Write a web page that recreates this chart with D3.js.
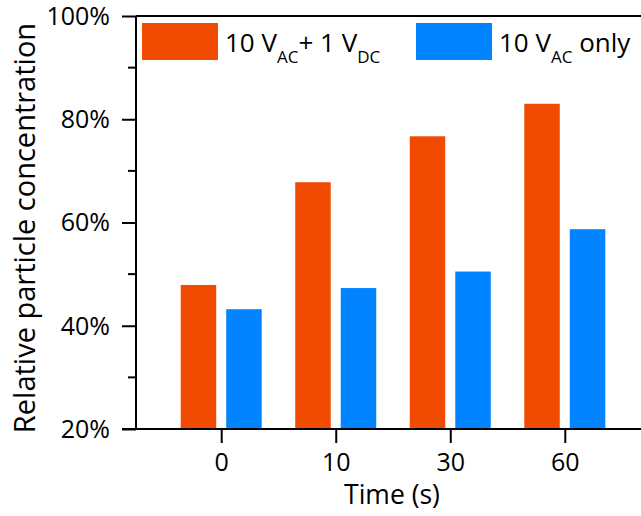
<!DOCTYPE html>
<html>
<head>
<meta charset="utf-8">
<script src="https://cdn.jsdelivr.net/npm/d3@7"></script>
<style>
  html, body { margin: 0; padding: 0; background: #fff; }
  svg { display: block; font-family: "Open Sans", "Noto Sans", sans-serif; }
</style>
</head>
<body>
<svg id="chart" width="641" height="516"></svg>
<script>
// Time points (s) and relative particle concentration (%) per condition
const times = ["0", "10", "30", "60"];
const seriesNames = ["acdc", "ac"];
const acPlusDc = [47.9, 67.8, 76.7, 83.0];
const acOnly = [43.2, 47.3, 50.5, 58.7];
const yTicks = [20, 40, 60, 80, 100];
const yMinorTicks = [30, 50, 70, 90];
const colors = { acdc: "#F04B00", ac: "#0084FF" };

const svg = d3.select("#chart");
const plotLeft = 136, plotTop = 16, plotBottom = 429, plotRight = 650;

const y = d3.scaleLinear().domain([20, 100]).range([plotBottom, plotTop]);
const x = d3.scalePoint().domain(times).range([plotLeft, plotRight]).padding(0.744);
const xSub = d3.scaleBand().domain(seriesNames).range([-40.5, 40.5]).paddingInner(0.22);

const rows = times.map((t, i) => ({ t, acdc: acPlusDc[i], ac: acOnly[i] }));

// Bars
const groups = svg.append("g").selectAll("g").data(rows).join("g")
  .attr("transform", d => `translate(${x(d.t)},0)`);
groups.selectAll("rect")
  .data(d => seriesNames.map(k => ({ k, v: d[k] })))
  .join("rect")
  .attr("x", d => xSub(d.k))
  .attr("width", xSub.bandwidth())
  .attr("y", d => y(d.v))
  .attr("height", d => y(20) - y(d.v))
  .attr("fill", d => colors[d.k]);

// Frame: top border line
svg.append("line")
  .attr("x1", plotLeft).attr("x2", plotRight).attr("y1", plotTop).attr("y2", plotTop)
  .attr("stroke", "#000").attr("stroke-width", 2);

// Y axis with major and minor ticks
const yAxis = svg.append("g").attr("transform", `translate(${plotLeft},0)`)
  .call(d3.axisLeft(y).tickValues(yTicks).tickSize(14).tickPadding(12)
    .tickFormat(d => d + "%"));
yAxis.append("g").selectAll("line").data(yMinorTicks).join("line")
  .attr("x1", -8).attr("x2", 0)
  .attr("y1", d => y(d)).attr("y2", d => y(d));
yAxis.select(".domain").remove();
yAxis.append("line").attr("x1", 0).attr("x2", 0).attr("y1", plotTop).attr("y2", plotBottom);
yAxis.selectAll("line").attr("stroke", "#000").attr("stroke-width", 2);
yAxis.selectAll("text").attr("font-size", 25).attr("fill", "#000")
  .attr("font-family", "'Open Sans', sans-serif").attr("dy", "0.33em");

// X axis
const xAxis = svg.append("g").attr("transform", `translate(0,${plotBottom})`)
  .call(d3.axisBottom(x).tickSize(14).tickPadding(10));
xAxis.select(".domain").remove();
xAxis.append("line").attr("x1", plotLeft - 14).attr("x2", plotRight).attr("y1", 0).attr("y2", 0);
xAxis.selectAll("line").attr("stroke", "#000").attr("stroke-width", 2);
xAxis.selectAll(".tick text").attr("font-size", 25).attr("fill", "#000")
  .attr("font-family", "'Open Sans', sans-serif").attr("dy", "0.71em");

// Axis titles
svg.append("text")
  .attr("x", 392).attr("y", 504)
  .attr("text-anchor", "middle").attr("font-size", 26.5).attr("fill", "#000")
  .text("Time (s)");
svg.append("text")
  .attr("transform", "translate(35,228) rotate(-90)")
  .attr("text-anchor", "middle").attr("font-size", 29).attr("fill", "#000")
  .text("Relative particle concentration");

// Legend (with subscripted voltage labels)
const legendItems = [
  { k: "acdc", x: 142, parts: [["10 V", false], ["AC", true], ["+ 1 V", false], ["DC", true]] },
  { k: "ac", x: 416, parts: [["10 V", false], ["AC", true], [" only", false]] }
];
legendItems.forEach(item => {
  svg.append("rect")
    .attr("x", item.x).attr("y", 23).attr("width", 76).attr("height", 37)
    .attr("fill", colors[item.k]);
  const txt = svg.append("text")
    .attr("x", item.x + 83).attr("y", 52)
    .attr("font-size", 26).attr("fill", "#000")
    .style("white-space", "pre");
  let shifted = false;
  item.parts.forEach(([s, sub]) => {
    let dy = 0;
    if (sub && !shifted) { dy = 11; shifted = true; }
    else if (!sub && shifted) { dy = -11; shifted = false; }
    txt.append("tspan")
      .attr("font-size", sub ? 17 : 26)
      .attr("dy", dy)
      .text(s);
  });
});
</script>
</body>
</html>
